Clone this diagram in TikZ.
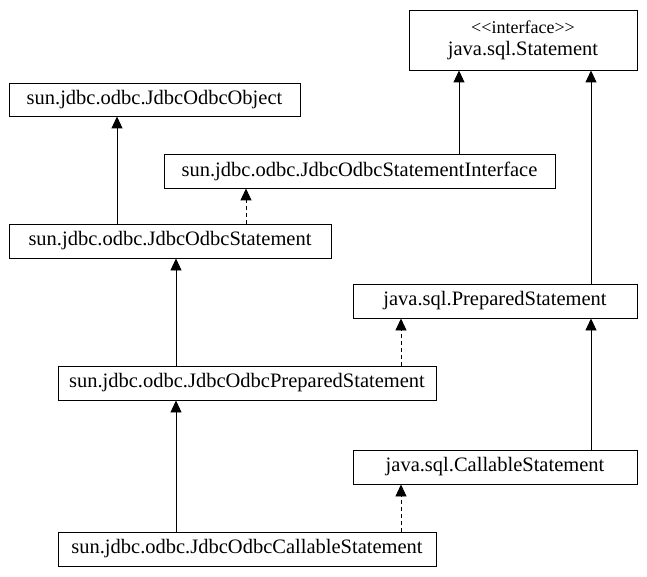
\documentclass[tikz,border=0pt]{standalone}
\usepackage{fontspec}
\setmainfont{Liberation Serif}
\usetikzlibrary{arrows.meta,positioning}

\begin{document}
\begin{tikzpicture}[
    x=1pt, y=-1pt,
    font=\fontsize{20.5}{22}\selectfont,
    cls/.style={draw=black, line width=0.9pt, fill=white, inner sep=0pt, align=center},
    extends/.style={draw=black, line width=0.9pt, -{Triangle[width=11pt,length=12pt]}},
    realizes/.style={extends, dash pattern=on 4pt off 3pt}
]
    \useasboundingbox (0,0) rectangle (647,577);

    % --- classi e interfacce ---
    \node[cls, minimum width=228pt, minimum height=60pt] (stmt) at (523,40)
        {{\fontsize{18}{19}\selectfont <{}<interface>{}>}\\[0pt]java.sql.Statement};
    \node[cls, minimum width=291pt, minimum height=33pt] (odbcobj) at (154.5,99.5) {sun.jdbc.odbc.JdbcOdbcObject};
    \node[cls, minimum width=391pt, minimum height=34pt] (stmtintf) at (359.5,171) {sun.jdbc.odbc.JdbcOdbcStatementInterface};
    \node[cls, minimum width=322pt, minimum height=34pt] (odbcstmt) at (170,241) {sun.jdbc.odbc.JdbcOdbcStatement};
    \node[cls, minimum width=284pt, minimum height=34pt] (prepstmt) at (495,301) {java.sql.PreparedStatement};
    \node[cls, minimum width=378pt, minimum height=34pt] (odbcprep) at (247,383) {sun.jdbc.odbc.JdbcOdbcPreparedStatement};
    \node[cls, minimum width=284pt, minimum height=34pt] (callstmt) at (495,467) {java.sql.CallableStatement};
    \node[cls, minimum width=378pt, minimum height=34pt] (odbccall) at (247,549) {sun.jdbc.odbc.JdbcOdbcCallableStatement};

    % --- ereditarieta' ---
    \draw[extends] (117,0 |- odbcstmt.north) -- (117,0 |- odbcobj.south);
    \draw[extends] (459,0 |- stmtintf.north) -- (459,0 |- stmt.south);
    \draw[extends] (591,0 |- prepstmt.north) -- (591,0 |- stmt.south);
    \draw[extends] (176,0 |- odbcprep.north) -- (176,0 |- odbcstmt.south);
    \draw[extends] (591,0 |- callstmt.north) -- (591,0 |- prepstmt.south);
    \draw[extends] (176,0 |- odbccall.north) -- (176,0 |- odbcprep.south);

    % --- implementazioni ---
    \draw[realizes] (246,0 |- odbcstmt.north) -- (246,0 |- stmtintf.south);
    \draw[realizes] (401,0 |- odbcprep.north) -- (401,0 |- prepstmt.south);
    \draw[realizes] (401,0 |- odbccall.north) -- (401,0 |- callstmt.south);
\end{tikzpicture}
\end{document}
